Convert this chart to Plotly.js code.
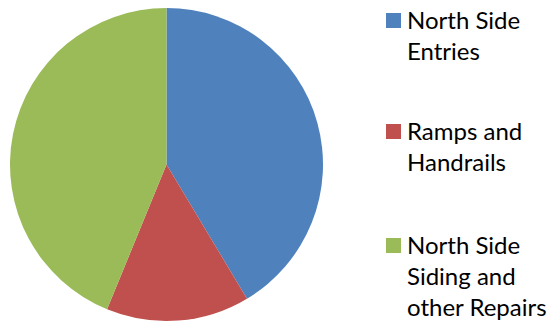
<!DOCTYPE html>
<html>
<head>
<meta charset="utf-8">
<script src="https://cdn.plot.ly/plotly-3.0.1.min.js"></script>
<style>html,body{margin:0;padding:0;background:#fff;}#chart{width:554px;height:323px;}</style>
</head>
<body>
<div id="chart"></div>
<script>
const categories = ["North Side<br>Entries", "Ramps and<br>Handrails", "North Side<br>Siding and<br>other Repairs"];
const values = [41.4, 14.8, 43.8];
const colors = ["#4F81BD", "#C0504D", "#9BBB59"];

const W = 554, H = 323;
const trace = {
  type: "pie",
  labels: categories,
  values: values,
  sort: false,
  direction: "clockwise",
  rotation: 0,
  textinfo: "none",
  hoverinfo: "label+percent",
  marker: {colors: colors, line: {width: 0}},
  domain: {x: [10/W, 323/W], y: [2/H, 315/H]},
  showlegend: false
};

// legend built from the category & colour arrays
const legendTops = [13, 124, 238];   // pixel top of each legend entry
const annotations = categories.map((c, i) => ({
  xref: "paper", yref: "paper",
  x: 405/W, y: 1 - (legendTops[i] - 10)/H,
  xanchor: "left", yanchor: "top", align: "left",
  showarrow: false,
  text: c,
  font: {family: "Lato, 'Open Sans', sans-serif", size: 24, color: "#000"}
}));
const shapes = categories.map((c, i) => ({
  type: "rect", xref: "paper", yref: "paper",
  x0: 386/W, x1: 401/W,
  y0: 1 - (legendTops[i] + 15)/H, y1: 1 - legendTops[i]/H,
  fillcolor: colors[i], line: {width: 0}
}));

const layout = {
  width: W, height: H,
  margin: {l: 0, r: 0, t: 0, b: 0},
  paper_bgcolor: "#fff",
  showlegend: false,
  annotations: annotations,
  shapes: shapes
};

Plotly.newPlot("chart", [trace], layout, {staticPlot: true, displayModeBar: false});
</script>
</body>
</html>
